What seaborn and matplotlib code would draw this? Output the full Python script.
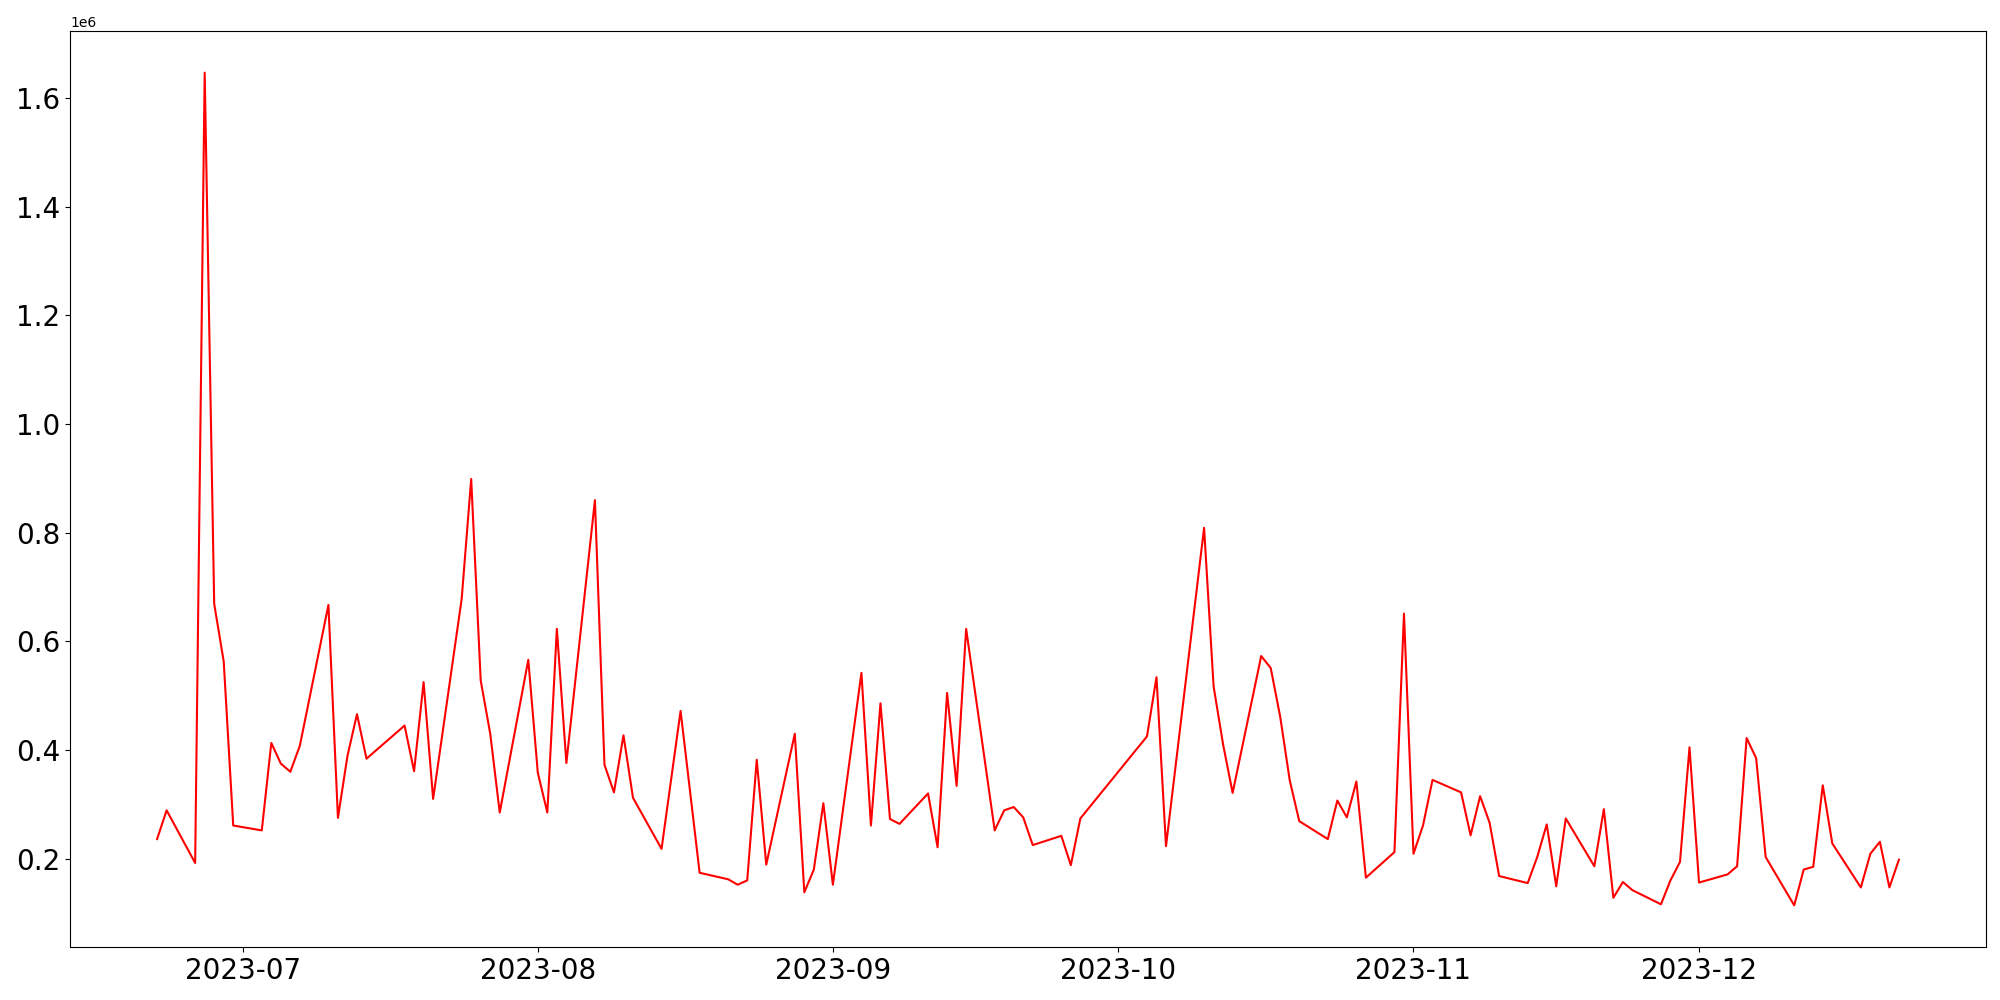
#!/usr/bin/env python3
import pandas as pd
import seaborn as sns
import matplotlib
matplotlib.use("Agg")
import matplotlib.pyplot as plt

# trading days shown in the chart (gaps = weekends / holidays)
dates = [
    "2023-06-22", "2023-06-23", "2023-06-26", "2023-06-27", "2023-06-28", "2023-06-29", "2023-06-30",
    "2023-07-03", "2023-07-04", "2023-07-05", "2023-07-06", "2023-07-07",
    "2023-07-10", "2023-07-11", "2023-07-12", "2023-07-13", "2023-07-14",
    "2023-07-18", "2023-07-19", "2023-07-20", "2023-07-21",
    "2023-07-24", "2023-07-25", "2023-07-26", "2023-07-27", "2023-07-28",
    "2023-07-31", "2023-08-01", "2023-08-02", "2023-08-03", "2023-08-04",
    "2023-08-07", "2023-08-08", "2023-08-09", "2023-08-10", "2023-08-11",
    "2023-08-14", "2023-08-16", "2023-08-18",
    "2023-08-21", "2023-08-22", "2023-08-23", "2023-08-24", "2023-08-25",
    "2023-08-28", "2023-08-29", "2023-08-30", "2023-08-31", "2023-09-01",
    "2023-09-04", "2023-09-05", "2023-09-06", "2023-09-07", "2023-09-08",
    "2023-09-11", "2023-09-12", "2023-09-13", "2023-09-14", "2023-09-15",
    "2023-09-18", "2023-09-19", "2023-09-20", "2023-09-21", "2023-09-22",
    "2023-09-25", "2023-09-26", "2023-09-27",
    "2023-10-04", "2023-10-05", "2023-10-06",
    "2023-10-10", "2023-10-11", "2023-10-12", "2023-10-13",
    "2023-10-16", "2023-10-17", "2023-10-18", "2023-10-19", "2023-10-20",
    "2023-10-23", "2023-10-24", "2023-10-25", "2023-10-26", "2023-10-27",
    "2023-10-30", "2023-10-31", "2023-11-01", "2023-11-02", "2023-11-03",
    "2023-11-06", "2023-11-07", "2023-11-08", "2023-11-09", "2023-11-10",
    "2023-11-13", "2023-11-14", "2023-11-15", "2023-11-16", "2023-11-17",
    "2023-11-20", "2023-11-21", "2023-11-22", "2023-11-23", "2023-11-24",
    "2023-11-27", "2023-11-28", "2023-11-29", "2023-11-30", "2023-12-01",
    "2023-12-04", "2023-12-05", "2023-12-06", "2023-12-07", "2023-12-08",
    "2023-12-11", "2023-12-12", "2023-12-13", "2023-12-14", "2023-12-15",
    "2023-12-18", "2023-12-19", "2023-12-20", "2023-12-21", "2023-12-22",
]

volume = [
    236000, 289000, 192000, 1647000, 669000, 563000, 261000,
    252000, 413000, 375000, 360000, 408000,
    667000, 275000, 389000, 466000, 384000,
    445000, 361000, 525000, 310000,
    678000, 899000, 528000, 430000, 285000,
    566000, 358000, 285000, 623000, 376000,
    860000, 373000, 322000, 427000, 312000,
    218000, 472000, 174000,
    162000, 152000, 160000, 382000, 189000,
    430000, 138000, 180000, 302000, 152000,
    542000, 261000, 486000, 273000, 264000,
    320000, 221000, 505000, 334000, 623000,
    252000, 289000, 295000, 276000, 225000,
    242000, 188000, 274000,
    425000, 534000, 223000,
    809000, 517000, 410000, 321000,
    573000, 551000, 461000, 344000, 269000,
    236000, 307000, 276000, 342000, 165000,
    212000, 651000, 209000, 261000, 345000,
    322000, 243000, 315000, 266000, 168000,
    155000, 203000, 263000, 149000, 274000,
    186000, 291000, 128000, 157000, 142000,
    116000, 160000, 194000, 405000, 156000,
    171000, 186000, 422000, 385000, 203000,
    114000, 180000, 185000, 335000, 228000,
    147000, 209000, 231000, 147000, 198000,
]


def main():
    df = pd.DataFrame({"date": pd.to_datetime(dates), "volume": volume})

    fig, ax = plt.subplots(figsize=(20, 10), dpi=100)
    sns.lineplot(data=df, x="date", y="volume", color="red", ax=ax)
    ax.set_xlabel("")
    ax.set_ylabel("")
    ax.tick_params(axis="both", labelsize=20)

    fig.subplots_adjust(left=0.035, right=0.993, bottom=0.053, top=0.969)
    fig.savefig("out.png", dpi=100)
    plt.close(fig)


if __name__ == "__main__":
    main()
